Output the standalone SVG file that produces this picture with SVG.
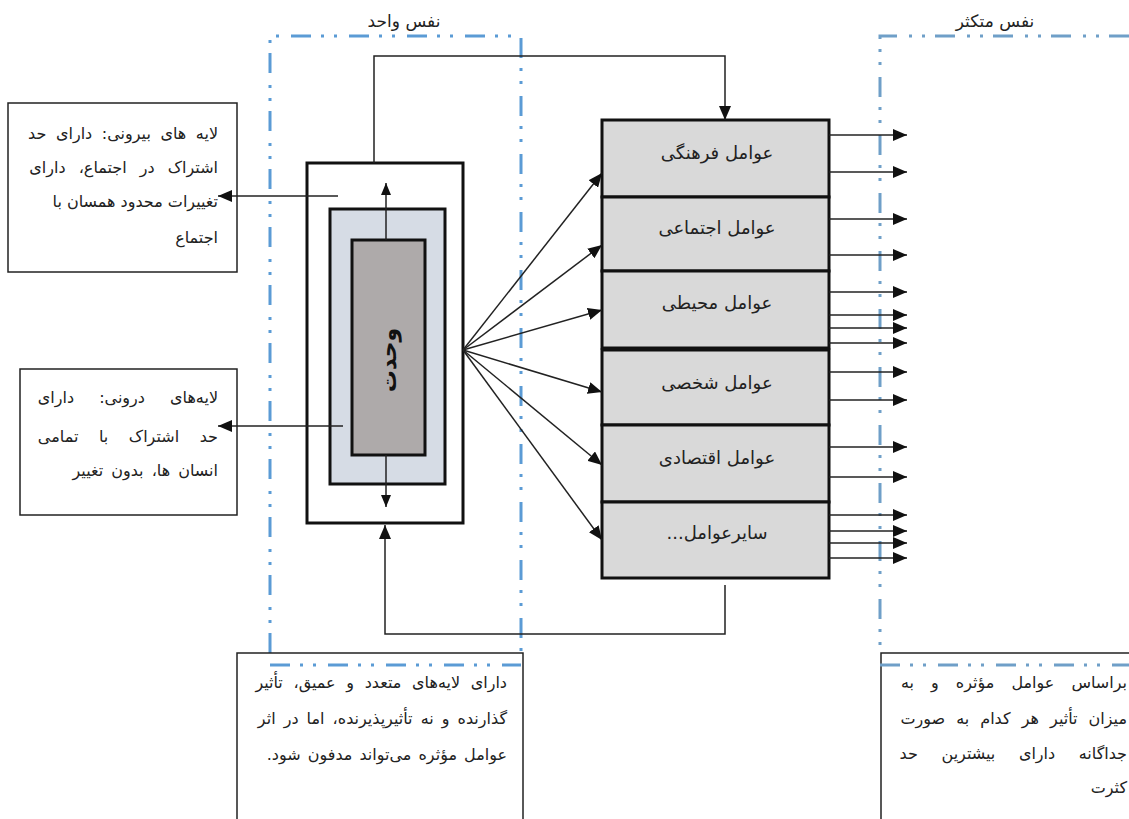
<svg xmlns="http://www.w3.org/2000/svg" width="1129" height="819" viewBox="0 0 1129 819">
<style>
.t{font-family:"DejaVu Sans",sans-serif;font-size:16px;fill:#222;direction:rtl;unicode-bidi:embed;}
.c{font-family:"DejaVu Sans",sans-serif;font-size:18px;fill:#222;text-anchor:middle;direction:rtl;unicode-bidi:embed;}
.box{fill:#fff;stroke:#222;stroke-width:1.5;}
.thick{stroke:#111;stroke-width:3;}
.cell{fill:#d9d9d9;stroke:#111;stroke-width:3;}
.ln{fill:none;stroke:#222;stroke-width:1.5;}
.fr1{fill:none;stroke:#5b9bd5;stroke-width:3;stroke-dasharray:20 10 3 10 3 12;}
.fr2{fill:none;stroke:#6f9fc8;stroke-width:3;stroke-dasharray:20 10 3 10 3 12;}
</style>
<defs>
<marker id="ah" viewBox="0 0 14 12" refX="14" refY="6" markerWidth="14" markerHeight="12" markerUnits="userSpaceOnUse" orient="auto"><path d="M0,0 L14,6 L0,12 z" fill="#111"/></marker>
<marker id="as" viewBox="0 0 12 10" refX="12" refY="5" markerWidth="12" markerHeight="10" markerUnits="userSpaceOnUse" orient="auto"><path d="M0,0 L12,5 L0,10 z" fill="#111"/></marker>
</defs>

<g id="frame-single">
<polyline class="fr1" points="270,653 270,36 521,36 521,653"/>
<text class="c" x="404" y="27" style="font-size:17px">نفس واحد</text>
</g>
<g id="frame-multiple">
<polyline class="fr2" points="1129,36 880,36 880,653"/>
<text class="c" x="995" y="27" style="font-size:17px">نفس متکثر</text>
</g>

<g id="note-outer">
<rect class="box" x="8" y="103" width="229" height="169"/>
<text class="t" x="218" y="139" style="word-spacing:4.5px">لایه های بیرونی: دارای حد</text>
<text class="t" x="218" y="173" style="word-spacing:8px">اشتراک در اجتماع، دارای</text>
<text class="t" x="218" y="207">تغییرات محدود همسان با</text>
<text class="t" x="218" y="243">اجتماع</text>
</g>

<g id="note-inner">
<rect class="box" x="20" y="369" width="217" height="146"/>
<text class="t" x="218" y="403" style="word-spacing:20px">لایه‌های درونی: دارای</text>
<text class="t" x="218" y="442" style="word-spacing:15.5px">حد اشتراک با تمامی</text>
<text class="t" x="218" y="476" style="word-spacing:3px">انسان ها، بدون تغییر</text>
</g>

<g id="unity">
<rect x="307" y="163" width="156" height="360" fill="#fff" class="thick"/>
<rect x="330" y="209" width="115" height="275" fill="#d6dce5" class="thick"/>
<rect x="352" y="240" width="73" height="215" fill="#aeaaaa" class="thick"/>
<text transform="translate(388,360) rotate(-90)" style="font-family:'DejaVu Sans',sans-serif;font-size:22px;font-weight:bold;fill:#111;text-anchor:middle;direction:rtl" y="8">وحدت</text>
</g>

<g id="factors">
<rect class="cell" x="602" y="120" width="227" height="77"/>
<rect class="cell" x="602" y="197" width="227" height="74"/>
<rect class="cell" x="602" y="271" width="227" height="77"/>
<rect class="cell" x="602" y="350" width="227" height="75"/>
<rect class="cell" x="602" y="425" width="227" height="77"/>
<rect class="cell" x="602" y="502" width="227" height="76"/>
<line x1="602" y1="349" x2="829" y2="349" stroke="#111" stroke-width="3"/>
<text class="c" x="717" y="159">عوامل فرهنگی</text>
<text class="c" x="717" y="234">عوامل اجتماعی</text>
<text class="c" x="717" y="309">عوامل محیطی</text>
<text class="c" x="717" y="389">عوامل شخصی</text>
<text class="c" x="717" y="464">عوامل اقتصادی</text>
<text class="c" x="717" y="539">سایرعوامل...</text>
</g>

<g id="note-bottom-left">
<rect class="box" x="237" y="653" width="286" height="180"/>
<text class="t" x="507" y="688" style="word-spacing:5.6px">دارای لایه‌های متعدد و عمیق، تأثیر</text>
<text class="t" x="507" y="724" style="word-spacing:3px">گذارنده و نه تأثیرپذیرنده، اما در اثر</text>
<text class="t" x="507" y="760" style="word-spacing:2px">عوامل مؤثره می‌تواند مدفون شود.</text>
</g>

<g id="note-bottom-right">
<rect class="box" x="881" y="653" width="260" height="180"/>
<text class="t" x="1127" y="688" style="word-spacing:12px">براساس عوامل مؤثره و به</text>
<text class="t" x="1127" y="724" style="word-spacing:6px">میزان تأثیر هر کدام به صورت</text>
<text class="t" x="1127" y="759" style="word-spacing:18.5px">جداگانه دارای بیشترین حد</text>
<text class="t" x="1127" y="793">کثرت</text>
</g>

<g id="frame-bottoms">
<line class="fr1" x1="270" y1="665" x2="521" y2="665"/>
<line class="fr2" x1="880" y1="665" x2="1129" y2="665"/>
</g>

<g id="connectors">
<polyline class="ln" points="374,163 374,56 725,56 725,120" marker-end="url(#ah)"/>
<polyline class="ln" points="725,585 725,634 385,634 385,525" marker-end="url(#ah)"/>
<line class="ln" x1="338" y1="196" x2="218" y2="196" marker-end="url(#ah)"/>
<line class="ln" x1="343" y1="426" x2="218" y2="426" marker-end="url(#ah)"/>
<line class="ln" x1="386" y1="240" x2="386" y2="183" marker-end="url(#as)"/>
<line class="ln" x1="386" y1="455" x2="386" y2="507" marker-end="url(#as)"/>
<line class="ln" x1="463" y1="350" x2="602" y2="173" marker-end="url(#ah)"/>
<line class="ln" x1="463" y1="350" x2="602" y2="245" marker-end="url(#ah)"/>
<line class="ln" x1="463" y1="350" x2="602" y2="310" marker-end="url(#ah)"/>
<line class="ln" x1="463" y1="350" x2="602" y2="392" marker-end="url(#ah)"/>
<line class="ln" x1="463" y1="350" x2="602" y2="465" marker-end="url(#ah)"/>
<line class="ln" x1="463" y1="350" x2="602" y2="540" marker-end="url(#ah)"/>
<line class="ln" x1="829" y1="135" x2="907" y2="135" marker-end="url(#ah)"/>
<line class="ln" x1="829" y1="172" x2="907" y2="172" marker-end="url(#ah)"/>
<line class="ln" x1="829" y1="219" x2="907" y2="219" marker-end="url(#ah)"/>
<line class="ln" x1="829" y1="255" x2="907" y2="255" marker-end="url(#ah)"/>
<line class="ln" x1="829" y1="292" x2="907" y2="292" marker-end="url(#ah)"/>
<line class="ln" x1="829" y1="315" x2="907" y2="315" marker-end="url(#ah)"/>
<line class="ln" x1="829" y1="328" x2="907" y2="328" marker-end="url(#ah)"/>
<line class="ln" x1="829" y1="343" x2="907" y2="343" marker-end="url(#ah)"/>
<line class="ln" x1="829" y1="372" x2="907" y2="372" marker-end="url(#ah)"/>
<line class="ln" x1="829" y1="400" x2="907" y2="400" marker-end="url(#ah)"/>
<line class="ln" x1="829" y1="447" x2="907" y2="447" marker-end="url(#ah)"/>
<line class="ln" x1="829" y1="477" x2="907" y2="477" marker-end="url(#ah)"/>
<line class="ln" x1="829" y1="515" x2="907" y2="515" marker-end="url(#ah)"/>
<line class="ln" x1="829" y1="531" x2="907" y2="531" marker-end="url(#ah)"/>
<line class="ln" x1="829" y1="543" x2="907" y2="543" marker-end="url(#ah)"/>
<line class="ln" x1="829" y1="558" x2="907" y2="558" marker-end="url(#ah)"/>
</g>
</svg>
